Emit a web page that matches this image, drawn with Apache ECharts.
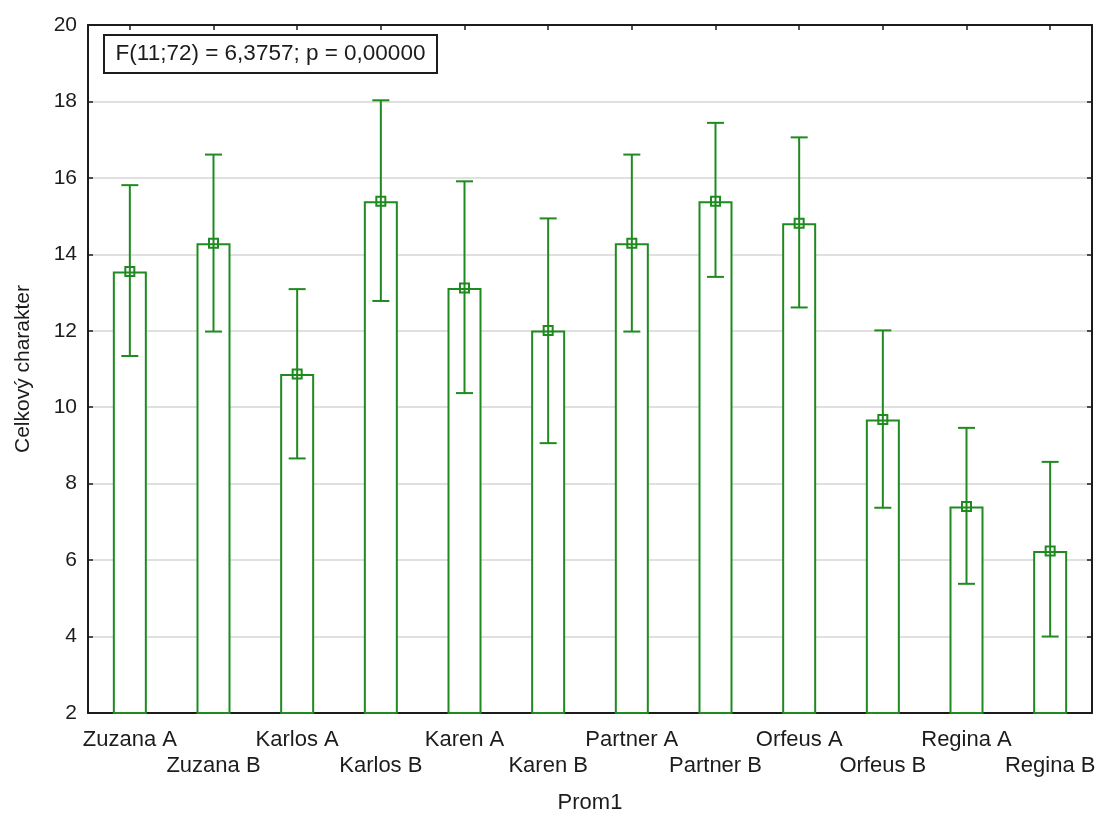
<!DOCTYPE html>
<html>
<head>
<meta charset="utf-8">
<script src="https://cdn.jsdelivr.net/npm/echarts@6/dist/echarts.min.js"></script>
<style>
  html, body { margin: 0; padding: 0; background: #fff; }
  #chart { width: 1101px; height: 819px; }
</style>
</head>
<body>
<div id="chart"></div>
<script>
// Group means of "Celkový charakter" with their confidence limits
const categories = ['Zuzana A', 'Zuzana B', 'Karlos A', 'Karlos B', 'Karen A', 'Karen B',
                    'Partner A', 'Partner B', 'Orfeus A', 'Orfeus B', 'Regina A', 'Regina B'];
const means = [13.55, 14.29, 10.87, 15.39, 13.12, 12.01, 14.29, 15.39, 14.81, 9.68, 7.40, 6.24];
const lower = [11.34, 11.98, 8.66, 12.78, 10.37, 9.06, 11.98, 13.41, 12.61, 7.37, 5.38, 4.00];
const upper = [15.81, 16.61, 13.09, 18.03, 15.91, 14.94, 16.61, 17.44, 17.06, 12.01, 9.46, 8.57];
const yTicks = { min: 2, max: 20, interval: 2 };
const statText = 'F(11;72) = 6,3757; p = 0,00000';

const GREEN = '#1f8a1f';
const INK = '#1c1c1c';
const FONT = 'Liberation Sans, Arial, sans-serif';

const chart = echarts.init(document.getElementById('chart'), null, { renderer: 'canvas' });

const errorData = categories.map((c, i) => [i, lower[i], upper[i], means[i]]);

const frameAxis = {
  axisLine: { show: true, lineStyle: { color: INK, width: 2 } },
  axisTick: { show: true, inside: true, length: 5, lineStyle: { color: INK, width: 1.5 } }
};

chart.setOption({
  backgroundColor: '#fff',
  animation: false,
  textStyle: { fontFamily: FONT },
  grid: { left: 88, right: 9, top: 25, bottom: 103, containLabel: false },
  xAxis: [
    {
      type: 'category',
      data: categories,
      position: 'bottom',
      boundaryGap: true,
      ...frameAxis,
      axisTick: { ...frameAxis.axisTick, alignWithLabel: true },
      axisLabel: {
        interval: 0,
        margin: 14,
        fontSize: 22,
        lineHeight: 26,
        color: INK,
        fontFamily: FONT,
        formatter: (v, i) => (i % 2 ? '\n' + v : v)
      },
      name: 'Prom1',
      nameLocation: 'middle',
      nameGap: 79,
      nameTextStyle: { fontSize: 22, color: INK, fontFamily: FONT }
    },
    {
      type: 'category',
      data: categories,
      position: 'top',
      boundaryGap: true,
      ...frameAxis,
      axisTick: { ...frameAxis.axisTick, alignWithLabel: true },
      axisLabel: { show: false }
    }
  ],
  yAxis: [
    {
      type: 'value',
      min: yTicks.min,
      max: yTicks.max,
      interval: yTicks.interval,
      position: 'left',
      ...frameAxis,
      axisLabel: { margin: 11, fontSize: 21, color: INK, fontFamily: FONT },
      splitLine: { show: true, lineStyle: { color: '#d6d6d6', width: 1.5 } },
      name: 'Celkový charakter',
      nameLocation: 'middle',
      nameGap: 54,
      nameTextStyle: { fontSize: 21, color: INK, fontFamily: FONT }
    },
    {
      type: 'value',
      min: yTicks.min,
      max: yTicks.max,
      interval: yTicks.interval,
      position: 'right',
      ...frameAxis,
      axisLabel: { show: false },
      splitLine: { show: false }
    }
  ],
  graphic: [
    {
      type: 'group',
      left: 103,
      top: 34,
      children: [
        {
          type: 'rect',
          shape: { x: 0, y: 0, width: 333, height: 38 },
          style: { fill: '#fff', stroke: INK, lineWidth: 2 }
        },
        {
          type: 'text',
          x: 166.5,
          y: 19,
          style: {
            text: statText,
            fill: INK,
            font: '22.5px ' + FONT,
            align: 'center',
            verticalAlign: 'middle'
          }
        }
      ]
    }
  ],
  series: [
    {
      type: 'bar',
      data: means,
      barWidth: 34,
      clip: true,
      itemStyle: { color: '#fff', borderColor: GREEN, borderWidth: 2 },
      z: 2
    },
    {
      type: 'custom',
      data: errorData,
      z: 3,
      renderItem: (params, api) => {
        const i = api.value(0);
        const lo = api.coord([i, api.value(1)]);
        const hi = api.coord([i, api.value(2)]);
        const mid = api.coord([i, api.value(3)]);
        const cap = 8.5;
        const box = 4.5;
        const style = { stroke: GREEN, lineWidth: 2, fill: null };
        return {
          type: 'group',
          children: [
            { type: 'line', shape: { x1: lo[0], y1: lo[1], x2: hi[0], y2: hi[1] }, style },
            { type: 'line', shape: { x1: hi[0] - cap, y1: hi[1], x2: hi[0] + cap, y2: hi[1] }, style },
            { type: 'line', shape: { x1: lo[0] - cap, y1: lo[1], x2: lo[0] + cap, y2: lo[1] }, style },
            { type: 'rect', shape: { x: mid[0] - box, y: mid[1] - box, width: box * 2, height: box * 2 }, style }
          ]
        };
      }
    }
  ]
});
</script>
</body>
</html>
